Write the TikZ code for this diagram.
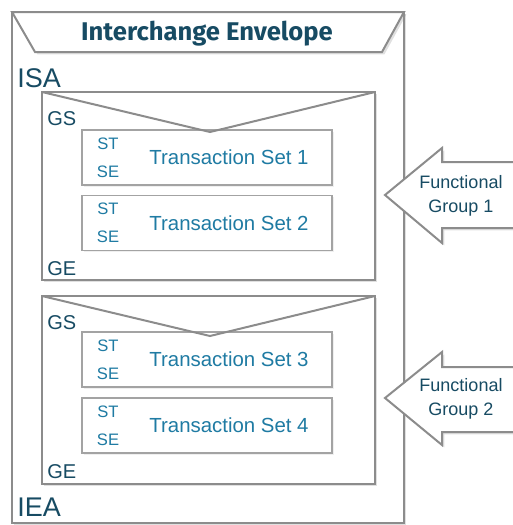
\documentclass[tikz,border=0pt]{standalone}
\usepackage{fontspec}
\setmainfont{Liberation Sans}
\newfontfamily\headfont{Fira Sans}
\usetikzlibrary{shadows}

\definecolor{edgegray}{HTML}{8C8C8C}
\definecolor{darkteal}{HTML}{174B63}
\definecolor{setblue}{HTML}{1F7BA3}

\def \tswidth {125pt}
\def \tsheight {27.5pt}

\tikzset{
  envline/.style={draw=edgegray, line width=1pt, fill=white,
    drop shadow={shadow xshift=1.2pt, shadow yshift=-1.2pt, opacity=0.3, fill=black!40}},
  setbox/.style={draw=edgegray!80, line width=0.9pt, fill=white,
    minimum width=\tswidth, minimum height=\tsheight, inner sep=0pt,
    drop shadow={shadow xshift=0.8pt, shadow yshift=-0.8pt, opacity=0.15, fill=black!40}},
  seglabel/.style={text=darkteal, font=\fontsize{10}{12}\selectfont, anchor=west, inner sep=0pt},
  stlabel/.style={text=setblue, font=\fontsize{8.3}{10}\selectfont, inner sep=0pt},
  settext/.style={text=setblue, font=\fontsize{10.2}{12}\selectfont, inner sep=0pt},
  grouptext/.style={text=darkteal, font=\fontsize{9}{12}\selectfont, align=center, inner sep=0pt}
}

\begin{document}
\begin{tikzpicture}[x=0.5pt, y=-0.5pt]
\useasboundingbox (0,0) rectangle (513,525);

% interchange envelope
\draw[envline] (12,12) rectangle (404,523);
\draw[envline] (12,12) -- (404,12) -- (382,52) -- (35,52) -- cycle;
\node[text=darkteal, font=\headfont\bfseries\fontsize{12.8}{14}\selectfont] (head) at (207,34) {Interchange Envelope};
\node[seglabel, font=\fontsize{13.5}{15}\selectfont] (isa) at (17,78) {ISA};
\node[seglabel, font=\fontsize{13.5}{15}\selectfont] (iea) at (17,507) {IEA};

% functional groups
\draw[envline] (42,92) rectangle (375,280);
\node[seglabel] (gs1) at (47,119) {GS};
\node[seglabel] (ge1) at (47,269) {GE};
\draw[envline] (42,296) rectangle (375,484);
\node[seglabel] (gs2) at (47,323) {GS};
\node[seglabel] (ge2) at (47,472) {GE};

% transaction sets
\foreach \n/\y in {1/157.5, 2/223, 3/359.5, 4/425.5} {
  \node[setbox] (ts\n) at (207,\y) {};
  \node[stlabel] (st\n) at (108,\y-14) {ST};
  \node[stlabel] (se\n) at (108,\y+14) {SE};
  \node[settext] (name\n) at (229,\y) {Transaction Set \n};
}

% envelope flaps
\draw[edgegray, line width=1pt] (42,92) -- (210,132) -- (375,92);
\draw[edgegray, line width=1pt] (42,296) -- (210,336) -- (375,296);

% group arrows
\draw[envline] (385,195) -- (442,148) -- (442,162) -- (520,162)
  -- (520,228) -- (442,228) -- (442,243) -- cycle;
\node[grouptext] (fg1) at (461,196) {Functional\\Group 1};
\draw[envline] (385,398) -- (442,352) -- (442,367) -- (520,367)
  -- (520,432) -- (442,432) -- (442,445) -- cycle;
\node[grouptext] (fg2) at (461,399) {Functional\\Group 2};
\end{tikzpicture}
\end{document}
